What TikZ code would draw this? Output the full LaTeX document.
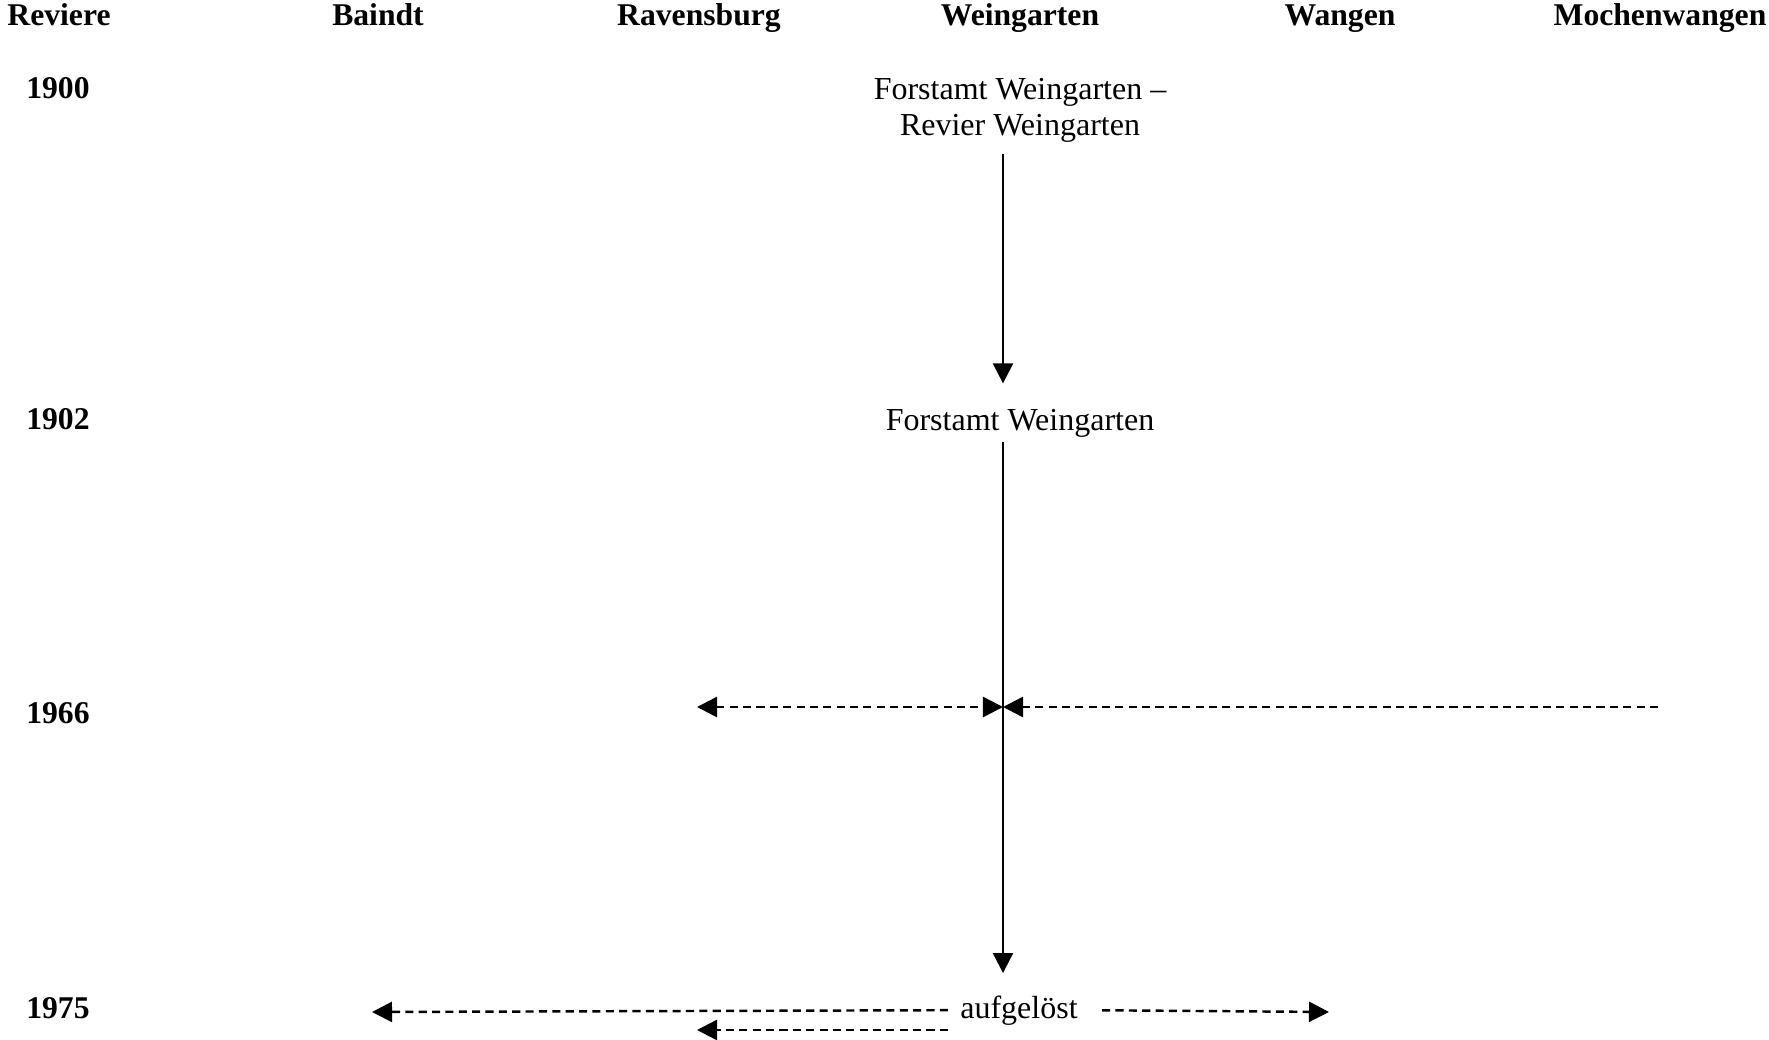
\documentclass[tikz,border=0pt]{standalone}
\usepackage{fontspec}
\setmainfont{Liberation Serif}
\usetikzlibrary{arrows.meta,positioning,calc}

\begin{document}
\begin{tikzpicture}[
  x=0.01cm,y=-0.01cm,
  font=\fontsize{9.1}{10.2}\selectfont,
  >={Triangle[length=2mm,width=2mm]},
  hdr/.style={font=\fontsize{9}{10.2}\selectfont\bfseries,anchor=base},
  txt/.style={align=center},
  flow/.style={->,line width=0.65pt},
  move/.style={line width=0.7pt,dash pattern=on 2.3pt off 1.5pt},
]
\useasboundingbox (0,0) rectangle (1769,1040);
% column heads
\node[hdr] (hRev) at (59,26) {Reviere};
\node[hdr] (hBai) at (378,26) {Baindt};
\node[hdr] (hRav) at (699,26) {Ravensburg};
\node[hdr] (hWei) at (1020,26) {Weingarten};
\node[hdr] (hWan) at (1340,26) {Wangen};
\node[hdr] (hMoc) at (1660,26) {Mochenwangen};
% years
\node[hdr] (y1900) at (58,99) {1900};
\node[hdr] (y1902) at (58,430) {1902};
\node[hdr] (y1966) at (58,724) {1966};
\node[hdr] (y1975) at (58,1018) {1975};
% entries
\node[txt] (fw1900) at (1020,110) {Forstamt Weingarten --\\Revier Weingarten};
\node[txt,anchor=base] (fw1902) at (1020,431) {Forstamt Weingarten};
\node[txt,anchor=base] (aufg) at (1019,1018) {aufgelöst};

\coordinate (wg) at (1003,0);
\coordinate (r66) at (697,707);
\coordinate (w66) at (1003,707);
\coordinate (m66) at (1658,707);
\coordinate (b75) at (372,1012);
\coordinate (wa75) at (1329,1012);
\coordinate (r75) at (697,1030);

\draw[flow,shorten >=1.4mm] (wg |- fw1900.south) -- (wg |- fw1902.north);
\draw[flow,shorten <=-0.8mm,shorten >=1mm] (wg |- fw1902.south) -- (wg |- aufg.north);
\draw[move,<->] (r66) -- (w66);
\draw[move,->] (m66) -- (w66);
\draw[move,->] (aufg.west) -- (b75);
\draw[move,->,shorten <=1.2mm] (aufg.east) -- (wa75);
\draw[move,->] (aufg.west |- r75) -- (r75);
\end{tikzpicture}
\end{document}
